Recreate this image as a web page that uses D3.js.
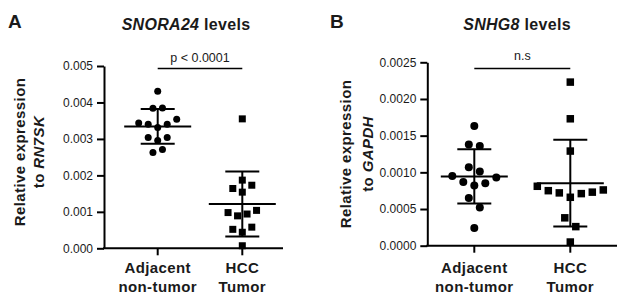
<!DOCTYPE html>
<html>
<head>
<meta charset="utf-8">
<script src="https://cdn.jsdelivr.net/npm/d3@7"></script>
<style>
    html, body { margin: 0; padding: 0; background: #fff; }
    svg { display: block; font-family: 'Liberation Sans', Arial, Helvetica, sans-serif; }
    .tick text { font-size: 12px; fill: #1a1a1a; }
    .label { font-weight: bold; fill: #1a1a1a; }
</style>
</head>
<body>
<svg id="chart" width="617" height="306"></svg>
<script>
// values (13 samples per group)
const categories = ['Adjacent non-tumor', 'HCC Tumor'];
const categoryLines = [['Adjacent', 'non-tumor'], ['HCC', 'Tumor']];

const snora24Adjacent = [0.00431, 0.00385, 0.00384, 0.00354, 0.00340, 0.00331, 0.00340,
    0.00344, 0.00304, 0.00296, 0.00304, 0.00263, 0.00271];
const snora24Tumor = [0.00355, 0.00187, 0.00164, 0.00173, 0.00154, 0.00098, 0.00089,
    0.00094, 0.00104, 0.00052, 0.00044, 0.00058, 0.00007];

const snhg8Adjacent = [0.00163, 0.00136, 0.00138, 0.00107, 0.00101, 0.00095, 0.00093,
    0.00087, 0.00082, 0.00085, 0.00065, 0.00052, 0.00024];
const snhg8Tumor = [0.00223, 0.00173, 0.00129, 0.00081, 0.00075, 0.00072, 0.00066,
    0.00071, 0.00073, 0.00076, 0.00038, 0.00026, 0.00005];

const snora24Ticks = [0, 0.001, 0.002, 0.003, 0.004, 0.005];
const snhg8Ticks = [0, 0.0005, 0.001, 0.0015, 0.002, 0.0025];

const panels = [
    {
        letter: 'A', letterX: 8,
        gene: 'SNORA24', titleX: 186,
        norm: 'RN7SK', yTitleX: [25, 44], yTitleY: 152,
        groups: [snora24Adjacent, snora24Tumor],
        ticks: snora24Ticks, format: '.3f',
        axisX: 104, axisEnd: 283, top: 66, bottom: 248.3,
        cats: [157.7, 242.3],
        step: 9.5, r: 3.5, sq: 7, side: -1,
        sig: 'p < 0.0001'
    },
    {
        letter: 'B', letterX: 330,
        gene: 'SNHG8', titleX: 517,
        norm: 'GAPDH', yTitleX: [351, 372.5], yTitleY: 154,
        groups: [snhg8Adjacent, snhg8Tumor],
        ticks: snhg8Ticks, format: '.4f',
        axisX: 427.3, axisEnd: 630, top: 62.3, bottom: 245.7,
        cats: [474.3, 570.3],
        step: 11, r: 4, sq: 7.5, side: 1,
        sig: 'n.s'
    }
];

const svg = d3.select('#chart');

// Prism-like column scatter: bin points into rows, spread each row from the centre out
const swarm = (values, y, step, side) => {
    const rows = [];
    values.slice().sort(d3.ascending).forEach(v => {
        const row = rows[rows.length - 1];
        if (row && Math.abs(y(v) - y(row[0])) < step * 1.05) row.push(v);
        else rows.push([v]);
    });
    return rows.flatMap(row => row.map((v, i) => {
        const odd = row.length % 2 === 1;
        const k = odd ? Math.ceil(i / 2) : Math.floor(i / 2) + 0.5;
        const sign = odd ? (i % 2 === 1 ? side : -side) : (i % 2 === 0 ? side : -side);
        return { value: v, dx: sign * k * step };
    }));
};

const drawPanel = p => {
    const g = svg.append('g');

    const y = d3.scaleLinear()
        .domain(d3.extent(p.ticks))
        .range([p.bottom, p.top]);

    const x = d3.scalePoint()
        .domain(categories)
        .range(p.cats);

    // y axis
    g.append('g')
        .attr('transform', `translate(${p.axisX},0)`)
        .call(d3.axisLeft(y)
            .tickValues(p.ticks)
            .tickFormat(d3.format(p.format))
            .tickSize(7)
            .tickSizeOuter(0)
            .tickPadding(4))
        .call(a => a.select('.domain').attr('stroke-width', 2))
        .call(a => a.selectAll('.tick line').attr('stroke-width', 2));

    // x axis
    g.append('line')
        .attr('x1', p.axisX - 1)
        .attr('x2', p.axisEnd)
        .attr('y1', p.bottom)
        .attr('y2', p.bottom)
        .attr('stroke', '#000')
        .attr('stroke-width', 2);

    g.selectAll('.xtick')
        .data(categories)
        .enter()
        .append('line')
        .attr('class', 'xtick')
        .attr('x1', d => x(d))
        .attr('x2', d => x(d))
        .attr('y1', p.bottom)
        .attr('y2', p.bottom + 7)
        .attr('stroke', '#000')
        .attr('stroke-width', 2);

    categoryLines.forEach((lines, i) => {
        g.append('text')
            .attr('class', 'label')
            .attr('text-anchor', 'middle')
            .attr('font-size', 15)
            .attr('letter-spacing', 0.4)
            .selectAll('tspan')
            .data(lines)
            .enter()
            .append('tspan')
            .attr('x', x(categories[i]))
            .attr('y', (d, j) => 272.5 + j * 19)
            .text(d => d);
    });

    // mean +/- SD
    p.groups.forEach((values, i) => {
        const cx = x(categories[i]);
        const mean = d3.mean(values);
        const sd = d3.deviation(values);

        g.append('line')
            .attr('x1', cx - 33.5).attr('x2', cx + 33.5)
            .attr('y1', y(mean)).attr('y2', y(mean))
            .attr('stroke', '#000').attr('stroke-width', 2);

        g.append('line')
            .attr('x1', cx).attr('x2', cx)
            .attr('y1', y(mean - sd)).attr('y2', y(mean + sd))
            .attr('stroke', '#000').attr('stroke-width', 2);

        [mean - sd, mean + sd].forEach(v => {
            g.append('line')
                .attr('x1', cx - 17).attr('x2', cx + 17)
                .attr('y1', y(v)).attr('y2', y(v))
                .attr('stroke', '#000').attr('stroke-width', 2);
        });

        const pts = swarm(values, y, p.step, p.side);
        if (i === 0) {
            g.selectAll(`.dot${i}`)
                .data(pts)
                .enter()
                .append('circle')
                .attr('cx', d => cx + d.dx)
                .attr('cy', d => y(d.value))
                .attr('r', p.r)
                .attr('fill', '#000');
        } else {
            g.selectAll(`.sq${i}`)
                .data(pts)
                .enter()
                .append('rect')
                .attr('x', d => cx + d.dx - p.sq / 2)
                .attr('y', d => y(d.value) - p.sq / 2)
                .attr('width', p.sq)
                .attr('height', p.sq)
                .attr('fill', '#000');
        }
    });

    // significance bar
    g.append('line')
        .attr('x1', x(categories[0]))
        .attr('x2', x(categories[1]))
        .attr('y1', 68.5)
        .attr('y2', 68.5)
        .attr('stroke', '#000')
        .attr('stroke-width', 1.6);

    g.append('text')
        .attr('x', (x(categories[0]) + x(categories[1])) / 2)
        .attr('y', p.sig === 'n.s' ? 60 : 62)
        .attr('text-anchor', 'middle')
        .attr('font-size', 12.5)
        .attr('fill', '#1a1a1a')
        .text(p.sig);

    // titles
    g.append('text')
        .attr('class', 'label')
        .attr('x', p.letterX)
        .attr('y', 28)
        .attr('font-size', 19)
        .text(p.letter);

    const title = g.append('text')
        .attr('class', 'label')
        .attr('x', p.titleX)
        .attr('y', 30)
        .attr('text-anchor', 'middle')
        .attr('font-size', 16)
        .attr('letter-spacing', 0.3);
    title.append('tspan').attr('font-style', 'italic').text(p.gene);
    title.append('tspan').text(' levels');

    const yTitle = g.append('text')
        .attr('class', 'label')
        .attr('text-anchor', 'middle')
        .attr('font-size', 15)
        .attr('letter-spacing', 0.4)
        .attr('transform', `translate(0,${p.yTitleY}) rotate(-90)`);
    yTitle.append('tspan')
        .attr('x', 0)
        .attr('y', p.yTitleX[0])
        .text('Relative expression');
    const line2 = yTitle.append('tspan')
        .attr('x', 0)
        .attr('y', p.yTitleX[1]);
    line2.append('tspan').text('to ');
    line2.append('tspan').attr('font-style', 'italic').text(p.norm);
};

panels.forEach(drawPanel);
</script>
</body>
</html>
